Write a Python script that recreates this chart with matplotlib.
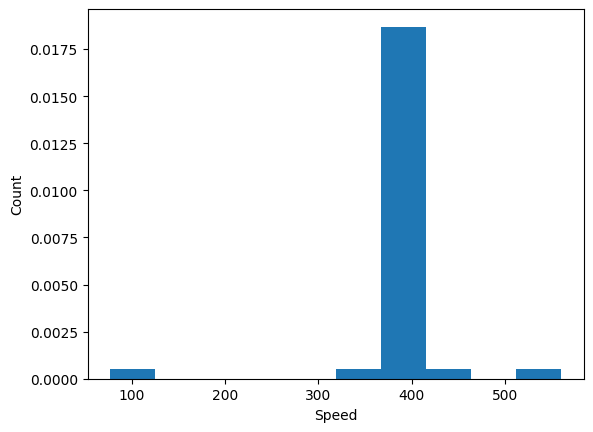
import matplotlib
matplotlib.use("Agg")
import matplotlib.pyplot as plt

# speed samples (41 values)
speed_low = [77]
speed_mid_low = [342]
speed_main = [372, 375, 378, 380, 381, 383, 384, 385, 386, 387,
              388, 389, 390, 390, 391, 392, 392, 393, 394, 395,
              395, 396, 397, 398, 399, 400, 401, 402, 403, 404,
              405, 406, 407, 408, 410, 412, 414]
speed_mid_high = [440]
speed_high = [560]

speeds = speed_low + speed_mid_low + speed_main + speed_mid_high + speed_high

fig, ax = plt.subplots(figsize=(6.4, 4.8), dpi=100)
ax.hist(speeds, bins=10, density=True)
ax.set_xlabel("Speed")
ax.set_ylabel("Count")

plt.savefig("out.png", bbox_inches="tight")
